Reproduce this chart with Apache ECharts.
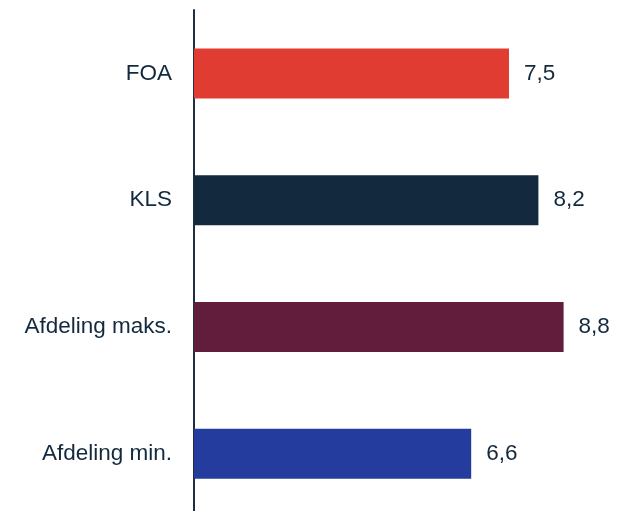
<!DOCTYPE html>
<html>
<head>
<meta charset="utf-8">
<script src="https://cdn.jsdelivr.net/npm/echarts@6/dist/echarts.min.js"></script>
<style>
  html, body { margin: 0; padding: 0; background: #fff; overflow: hidden; }
  #chart { width: 628px; height: 517px; }
</style>
</head>
<body>
<div id="chart"></div>
<script>
// data
const categories = ['FOA', 'KLS', 'Afdeling maks.', 'Afdeling min.']
const values = [7.5, 8.2, 8.8, 6.6]
const colors = ['#e03c31', '#13293d', '#631d3c', '#233c9e']

// chart is a bit taller than the window, the last band runs off the bottom
const myChart = echarts.init(document.querySelector('#chart'))

const option = {
  animation: false,
  grid: {
    left: 194,
    width: 420,
    top: 10,
    bottom: 0
  },
  xAxis: {
    type: 'value',
    min: 0,
    max: 10,
    show: false
  },
  yAxis: {
    type: 'category',
    inverse: true,
    data: categories,
    axisLine: {
      show: true,
      lineStyle: { color: '#1f2f3f', width: 2 }
    },
    axisTick: { show: false },
    axisLabel: {
      margin: 22,
      fontFamily: 'Liberation Sans, Arial, sans-serif',
      fontSize: 22.5,
      color: '#13293d'
    }
  },
  series: [
    {
      type: 'bar',
      barWidth: 50,
      data: values.map((v, i) => ({
        value: v,
        itemStyle: { color: colors[i] }
      })),
      label: {
        show: true,
        position: 'right',
        distance: 15,
        fontFamily: 'Liberation Sans, Arial, sans-serif',
        fontSize: 22.5,
        color: '#13293d',
        formatter: p => String(p.value).replace('.', ',')
      }
    }
  ]
}

myChart.setOption(option)
</script>
</body>
</html>
